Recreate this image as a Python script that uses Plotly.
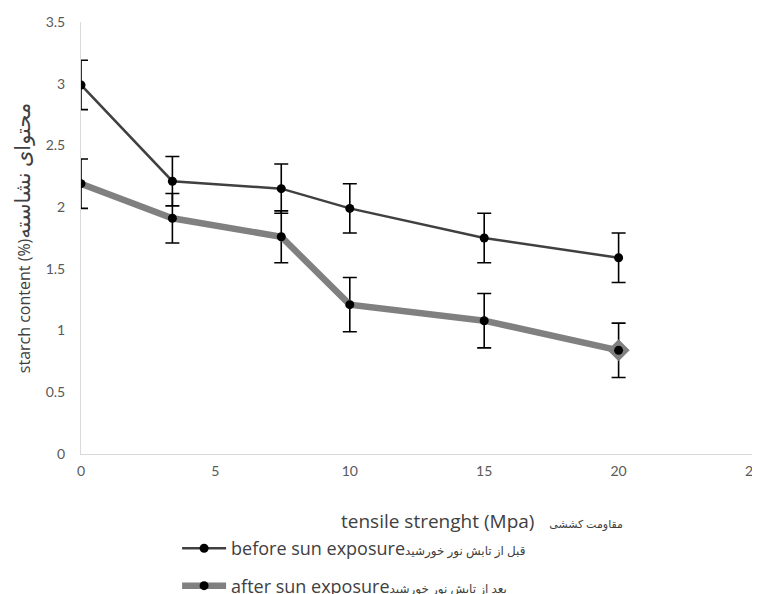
import plotly.graph_objects as go

# Data
tensile = [0, 3.4, 7.45, 10, 15, 20]
before_sun = [2.99, 2.21, 2.15, 1.99, 1.75, 1.59]
before_err = [0.2, 0.2, 0.2, 0.2, 0.2, 0.2]
after_sun = [2.19, 1.91, 1.76, 1.21, 1.08, 0.84]
after_err = [0.2, 0.2, 0.21, 0.22, 0.22, 0.22]

before_en, before_fa = "before sun exposure", "قبل از تابش نور خورشید"
after_en, after_fa = "after sun exposure", "بعد از تابش نور خورشید"
y_en, y_fa = "starch content (%)", "محتوای نشاسته"
x_en, x_fa = "tensile strenght (Mpa)", "مقاومت کششی"

FONT = "'Open Sans', 'DejaVu Sans', sans-serif"
TICKFONT = "Lato, 'DejaVu Sans', sans-serif"


def mixed(en, fa, fa_size):
    return f'{en}<span style="font-size:{fa_size}px">{fa}</span>'


fig = go.Figure()

fig.add_trace(go.Scatter(
    x=tensile, y=after_sun, mode="lines+markers", name=mixed(after_en, after_fa, 12),
    legendgroup="b", legendrank=2,
    line=dict(color="#808080", width=6.5),
    marker=dict(color="black", size=9),
    error_y=dict(type="data", array=after_err, color="black", thickness=1.6, width=7),
))
# diamond artefact at the last point of the after series
fig.add_trace(go.Scatter(
    x=tensile[-1:], y=after_sun[-1:], mode="markers", showlegend=False,
    marker=dict(color="#808080", size=17, symbol="diamond"), hoverinfo="skip",
))
fig.add_trace(go.Scatter(
    x=tensile[-1:], y=after_sun[-1:], mode="markers", showlegend=False,
    marker=dict(color="black", size=9), hoverinfo="skip",
))
fig.add_trace(go.Scatter(
    x=tensile, y=before_sun, mode="lines+markers", name=mixed(before_en, before_fa, 12),
    legendgroup="a", legendrank=1,
    line=dict(color="#404040", width=2.5),
    marker=dict(color="black", size=9),
    error_y=dict(type="data", array=before_err, color="black", thickness=1.6, width=7),
))

# page body adds an 8px offset, so the figure is 8px smaller than the window
fig.update_layout(
    width=752, height=586,
    margin=dict(l=73, r=7, t=14, b=140, autoexpand=False),
    paper_bgcolor="white", plot_bgcolor="white",
    font=dict(family=TICKFONT, size=14, color="#595959"),
    showlegend=True,
    legend=dict(
        x=0.143, y=-0.176, xanchor="left", yanchor="top",
        orientation="v", traceorder="grouped", tracegroupgap=11,
        font=dict(family=FONT, size=18, color="#404040"),
        itemwidth=44,
    ),
    annotations=[dict(
        text=x_en + "   " + f'<span style="font-size:11px">{x_fa}</span>',
        xref="paper", yref="paper", x=0.597, y=-0.155,
        xanchor="center", yanchor="middle", showarrow=False,
        font=dict(family=FONT, size=19, color="#404040"),
    )],
)

fig.update_xaxes(
    range=[0, 25], dtick=5, tick0=0, automargin=False,
    showgrid=False, zeroline=False,
    showline=True, linecolor="#d9d9d9", linewidth=1,
    ticks="", ticklabelstandoff=4, ticklabeloverflow="allow",
    tickfont=dict(size=14, color="#595959"),
)
fig.update_yaxes(
    range=[0, 3.5], dtick=0.5, tick0=0, automargin=False,
    showgrid=False, zeroline=False,
    showline=True, linecolor="#d9d9d9", linewidth=1,
    ticks="", ticklabelstandoff=12,
    tickfont=dict(size=14, color="#595959"),
    title=dict(text=mixed(y_en, y_fa, 21),
               font=dict(family=FONT, size=16, color="#404040"), standoff=24),
)

fig.write_html("out.html")
